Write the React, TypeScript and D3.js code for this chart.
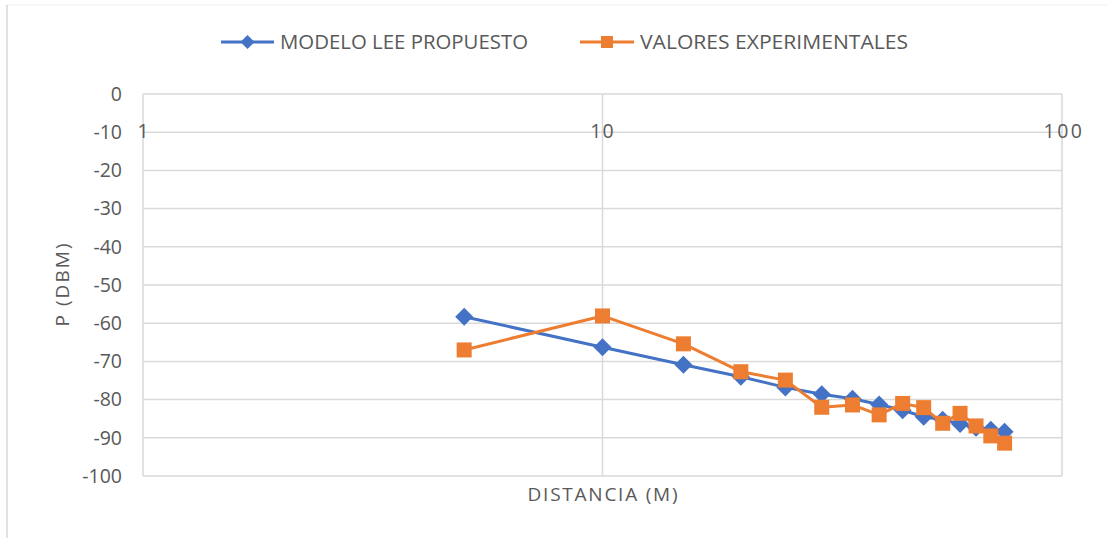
import React from "react";
import * as d3 from "d3";

const distances = [5, 10, 15, 20, 25, 30, 35, 40, 45, 50, 55, 60, 65, 70, 75];
const modeloLee = [-58.3, -66.3, -70.9, -74, -76.8, -78.6, -79.8, -81.3, -82.8, -84.5, -85.3, -86.4, -87.4, -87.9, -88.4];
const experimentales = [-67, -58.1, -65.4, -72.7, -74.9, -82, -81.4, -84, -81, -82.1, -86.2, -83.6, -86.9, -89.5, -91.4];
const yTicks = [0, -10, -20, -30, -40, -50, -60, -70, -80, -90, -100];
const xTicks = [1, 10, 100];
const seriesNames = ["MODELO LEE PROPUESTO", "VALORES EXPERIMENTALES"];

const W = 1107;
const H = 538;
const left = 143;
const right = 1062;
const top = 94;
const bottom = 476;
const BLUE = "#4472C4";
const ORANGE = "#ED7D31";
const GRID = "#d9d9d9";
const TEXT = "#595959";
const FONT = "'Open Sans', 'Liberation Sans', sans-serif";

export default function App() {
  const x = d3.scaleLog().domain([1, 100]).range([left, right]);
  const y = d3.scaleLinear().domain([-100, 0]).range([bottom, top]);
  const line = d3
    .line<[number, number]>()
    .x((d) => x(d[0]))
    .y((d) => y(d[1]));
  const blueData = distances.map((d, i) => [d, modeloLee[i]] as [number, number]);
  const orangeData = distances.map((d, i) => [d, experimentales[i]] as [number, number]);
  const diamond = (cx: number, cy: number, r: number) =>
    `M${cx},${cy - r}L${cx + r},${cy}L${cx},${cy + r}L${cx - r},${cy}Z`;

  return (
    <svg
      width={W}
      height={H}
      style={{ position: "absolute", left: 0, top: 0, background: "#fff" }}
      fontFamily={FONT}
    >
      <line x1={7} y1={5} x2={W} y2={5} stroke="#f0f0f0" strokeWidth={1} />
      <line x1={7} y1={5} x2={7} y2={H} stroke={GRID} strokeWidth={1.5} />

      {/* gridlines */}
      {yTicks.map((t) => (
        <line key={"h" + t} x1={left} x2={right} y1={y(t)} y2={y(t)} stroke={GRID} strokeWidth={1.5} />
      ))}
      {xTicks.map((t) => (
        <line key={"v" + t} x1={x(t)} x2={x(t)} y1={top} y2={bottom} stroke={GRID} strokeWidth={1.5} />
      ))}

      {/* y tick labels */}
      {yTicks.map((t) => (
        <text key={"yl" + t} x={122} y={y(t)} dy="0.35em" textAnchor="end" fontSize={19.5} fill={TEXT}>
          {t}
        </text>
      ))}
      {/* x tick labels */}
      {xTicks.map((t) => (
        <text
          key={"xl" + t}
          x={t === 100 ? x(t) + 2 : x(t)}
          y={131}
          dy="0.35em"
          textAnchor="middle"
          fontSize={19.5}
          fill={TEXT}
          letterSpacing={t === 100 ? 2.5 : t === 10 ? 1 : 0}
        >
          {t}
        </text>
      ))}

      {/* axis titles */}
      <text
        transform={`translate(62,${(top + bottom) / 2}) rotate(-90)`}
        textAnchor="middle"
        dy="0.35em"
        fontSize={19}
        fill={TEXT}
        textLength={83}
        lengthAdjust="spacing"
      >
        P (DBM)
      </text>
      <text
        x={(left + right) / 2}
        y={494}
        dy="0.35em"
        textAnchor="middle"
        fontSize={19}
        fill={TEXT}
        textLength={150}
        lengthAdjust="spacing"
      >
        DISTANCIA (M)
      </text>

      {/* series */}
      <path d={line(blueData) || ""} fill="none" stroke={BLUE} strokeWidth={3} strokeLinejoin="round" />
      {blueData.map((d, i) => (
        <path key={"b" + i} d={diamond(x(d[0]), y(d[1]), 9)} fill={BLUE} />
      ))}
      <path d={line(orangeData) || ""} fill="none" stroke={ORANGE} strokeWidth={3} strokeLinejoin="round" />
      {orangeData.map((d, i) => (
        <rect key={"o" + i} x={x(d[0]) - 7.5} y={y(d[1]) - 7.5} width={15} height={15} fill={ORANGE} />
      ))}

      {/* legend */}
      <line x1={221} x2={274} y1={42} y2={42} stroke={BLUE} strokeWidth={3} />
      <path d={diamond(247.5, 42, 7)} fill={BLUE} />
      <text x={280} y={42} dy="0.35em" fontSize={20} fill={TEXT} textLength={248} lengthAdjust="spacingAndGlyphs">
        {seriesNames[0]}
      </text>
      <line x1={580} x2={634} y1={42} y2={42} stroke={ORANGE} strokeWidth={3} />
      <rect x={601} y={36} width={12} height={12} fill={ORANGE} />
      <text x={640} y={42} dy="0.35em" fontSize={20} fill={TEXT} textLength={268} lengthAdjust="spacingAndGlyphs">
        {seriesNames[1]}
      </text>
    </svg>
  );
}
